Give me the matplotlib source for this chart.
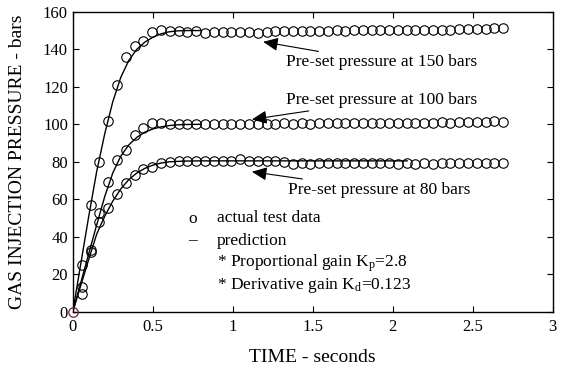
import matplotlib

matplotlib.use("Agg")
import matplotlib.pyplot as plt

plt.rcParams["font.family"] = ["Liberation Serif", "DejaVu Serif"]
plt.rcParams["mathtext.fontset"] = "custom"
plt.rcParams["mathtext.rm"] = "Liberation Serif"
plt.rcParams["mathtext.it"] = "Liberation Serif:italic"

# measured samples (seconds)
time_data = [
    0.0, 0.060, 0.113, 0.166, 0.221, 0.276, 0.331, 0.386, 0.442, 0.497,
    0.553, 0.608, 0.663, 0.717, 0.772, 0.827, 0.882, 0.937, 0.991, 1.046,
    1.101, 1.156, 1.211, 1.265, 1.320, 1.375, 1.430, 1.485, 1.539, 1.594,
    1.649, 1.704, 1.759, 1.813, 1.868, 1.923, 1.978, 2.033, 2.087, 2.142,
    2.197, 2.252, 2.307, 2.361, 2.416, 2.471, 2.526, 2.581, 2.635, 2.690,
]
data_150 = [
    0, 25, 57, 80, 102, 121, 136, 142, 144.5, 149,
    150.4, 149.8, 149.6, 149.4, 149.5, 148.6, 149.3, 149.4, 149.2, 149.3,
    149.2, 148.6, 149.4, 149.5, 149.6, 149.7, 149.8, 149.9, 150.0, 150.0,
    150.1, 150.0, 150.1, 150.2, 150.1, 150.2, 150.3, 150.2, 150.3, 150.4,
    150.3, 150.4, 150.5, 150.5, 150.6, 150.6, 150.7, 150.8, 151.2, 151.3,
]
data_100 = [
    0, 13, 33, 52.5, 69.3, 81, 86.2, 94.2, 97.8, 100.5,
    100.6, 100.4, 100.3, 100.2, 100.3, 100.2, 100.3, 100.2, 100.3, 100.4,
    100.3, 100.4, 100.3, 100.4, 100.5, 100.4, 100.5, 100.4, 100.5, 100.5,
    100.6, 100.5, 100.6, 100.7, 100.6, 100.7, 100.8, 100.7, 100.8, 100.9,
    100.8, 100.9, 101.0, 100.9, 101.0, 101.1, 101.2, 101.3, 101.5, 101.2,
]
data_80 = [
    0, 9.3, 32, 47.7, 55.5, 62.7, 68.5, 72.9, 75.9, 77.3,
    79.1, 80.0, 80.2, 80.2, 80.3, 80.2, 80.3, 80.2, 80.5, 81.3,
    80.6, 80.3, 80.2, 80.3, 80.0, 79.0, 79.1, 79.0, 79.2, 79.1,
    79.2, 79.3, 79.5, 79.6, 79.4, 79.2, 79.1, 79.0, 79.1, 79.0,
    79.1, 79.0, 79.1, 79.2, 79.1, 79.2, 79.3, 79.2, 79.4, 79.3,
]

# model prediction curves
pred_time = [0, 0.05, 0.1, 0.15, 0.2, 0.25, 0.3, 0.35, 0.4, 0.45, 0.5, 0.55, 0.6, 0.65, 0.7, 0.8]
pred_150 = [0, 25.5, 51, 75, 95, 112, 125, 134, 140, 143.8, 146.4, 148.2, 149.3, 149.8, 150, 150]
pred_100 = [0, 15.5, 31, 46.5, 61.5, 74, 83, 89, 93, 95.8, 97.5, 98.6, 99.3, 99.7, 99.9, 100]
pred_80_time = [0, 0.05, 0.1, 0.15, 0.2, 0.25, 0.3, 0.35, 0.4, 0.45, 0.5, 0.55, 0.6, 0.7, 0.8, 1.0, 1.5, 2.09]
pred_80 = [0, 14, 28, 41.5, 51, 59, 65.5, 70.5, 74, 76.5, 78.2, 79.3, 80, 80.4, 80.5, 80.5, 80.5, 80.5]

x_ticks = [0, 0.5, 1, 1.5, 2, 2.5, 3]
x_tick_labels = ["0", "0.5", "1", "1.5", "2", "2.5", "3"]
y_ticks = [0, 20, 40, 60, 80, 100, 120, 140, 160]

# (label, arrow tip, text anchor)
annotations = [
    ("Pre-set pressure at 150 bars", (1.19, 144.0), (1.335, 133.0)),
    ("Pre-set pressure at 100 bars", (1.12, 102.6), (1.335, 113.0)),
    ("Pre-set pressure at 80 bars", (1.12, 74.7), (1.345, 65.0)),
]

FS = 12.5

fig = plt.figure(figsize=(5.64, 3.69), dpi=100)
ax = fig.add_axes([0.129, 0.155, 0.851, 0.813])

for series in (data_150, data_100, data_80):
    ax.plot(time_data[1:], series[1:], linestyle="none", marker="o", markersize=6.8,
            markerfacecolor="none", markeredgecolor="black", markeredgewidth=0.8, clip_on=False)
ax.plot(time_data[:1], data_80[:1], linestyle="none", marker="o", markersize=6.8,
        markerfacecolor="none", markeredgecolor="#7a1f45", markeredgewidth=0.9, clip_on=False, zorder=5)

ax.plot(pred_time, pred_150, color="black", lw=1.0)
ax.plot(pred_time, pred_100, color="black", lw=1.0)
ax.plot(pred_80_time, pred_80, color="black", lw=1.0)

for label, tip, anchor in annotations:
    ax.annotate(label, xy=tip, xytext=anchor, fontsize=FS, va="center", ha="left",
                arrowprops=dict(arrowstyle="-|>,head_length=0.6,head_width=0.27", color="black",
                                lw=0.8, mutation_scale=15, shrinkA=1, shrinkB=0))

ax.text(0.75, 49.5, "o", fontsize=FS, ha="center", va="center")
ax.text(0.9, 50.0, "actual test data", fontsize=FS, ha="left", va="center")
ax.text(0.75, 38.0, "\u2013", fontsize=FS, ha="center", va="center")
ax.text(0.9, 37.5, "prediction", fontsize=FS, ha="left", va="center")
ax.text(0.9, 26.0, "* Proportional gain K$_\\mathrm{p}$=2.8", fontsize=FS, ha="left", va="center")
ax.text(0.9, 14.2, "* Derivative gain K$_\\mathrm{d}$=0.123", fontsize=FS, ha="left", va="center")

ax.set_xlim(0, 3)
ax.set_ylim(0, 160)
ax.set_xticks(x_ticks)
ax.set_xticklabels(x_tick_labels)
ax.set_yticks(y_ticks)
ax.tick_params(direction="in", top=True, right=True, length=4, width=0.8, labelsize=12)
ax.tick_params(axis="x", pad=5)
for spine in ax.spines.values():
    spine.set_linewidth(1.0)

ax.set_xlabel("TIME - seconds", fontsize=14, labelpad=10)
ax.set_ylabel("GAS INJECTION PRESSURE - bars", fontsize=14, labelpad=12)

fig.savefig("out.png", dpi=100, facecolor="white")
